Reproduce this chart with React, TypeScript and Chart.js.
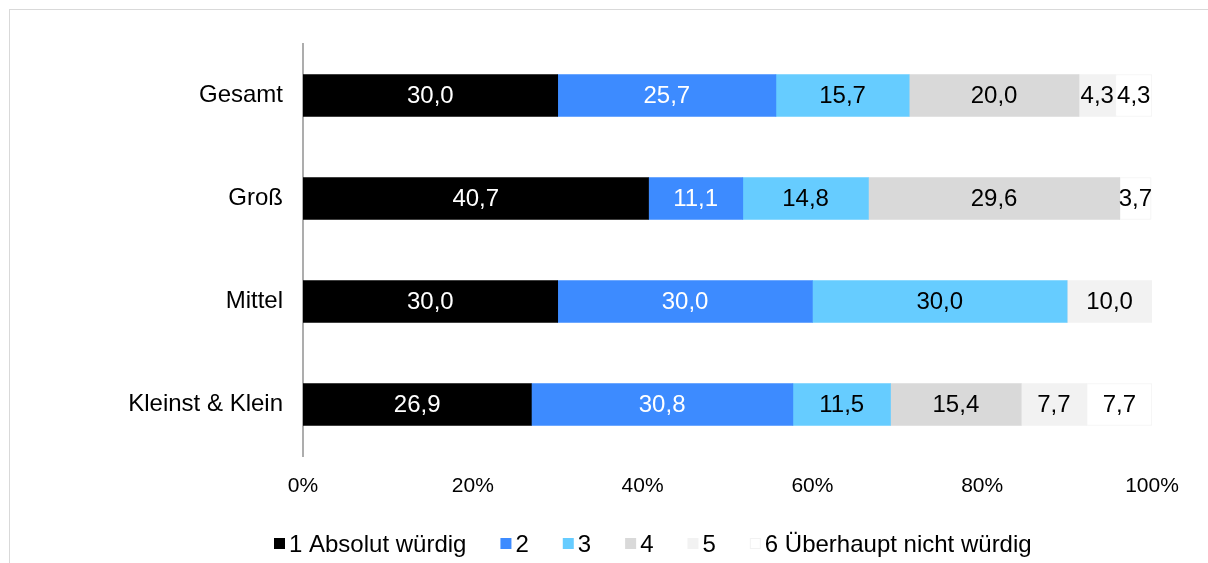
import React, { useEffect, useRef } from "react";
import { Chart, registerables } from "chart.js";

Chart.register(...registerables);

const categories = ["Gesamt", "Groß", "Mittel", "Kleinst & Klein"];
const seriesNames = ["1 Absolut würdig", "2", "3", "4", "5", "6 Überhaupt nicht würdig"];
const s1 = [30.0, 40.7, 30.0, 26.9];
const s2 = [25.7, 11.1, 30.0, 30.8];
const s3 = [15.7, 14.8, 30.0, 11.5];
const s4 = [20.0, 29.6, 0, 15.4];
const s5 = [4.3, 0, 10.0, 7.7];
const s6 = [4.3, 3.7, 0, 7.7];
const xTicks = [0, 20, 40, 60, 80, 100];

const colors = ["#000000", "#3D8BFF", "#66CCFF", "#D9D9D9", "#F2F2F2", "#FFFFFF"];
const labelColors = ["#FFFFFF", "#FFFFFF", "#000000", "#000000", "#000000", "#000000"];
const FONT = "'Liberation Sans', Arial, sans-serif";

export default function App() {
  const ref = useRef<HTMLCanvasElement>(null);
  useEffect(() => {
    if (!ref.current) return;
    const series = [s1, s2, s3, s4, s5, s6];
    const labelPlugin = {
      id: "labels",
      afterDatasetsDraw(chart: any) {
        const ctx = chart.ctx;
        ctx.save();
        ctx.font = `24px ${FONT}`;
        ctx.textAlign = "center";
        ctx.textBaseline = "middle";
        chart.data.datasets.forEach((ds: any, di: number) => {
          const meta = chart.getDatasetMeta(di);
          meta.data.forEach((el: any, i: number) => {
            const v = ds.data[i];
            if (!v) return;
            ctx.fillStyle = labelColors[di];
            ctx.fillText(v.toFixed(1).replace(".", ","), (el.x + el.base) / 2, el.y + 1);
          });
        });
        ctx.restore();
      },
    };
    const framePlugin = {
      id: "frame",
      beforeDraw(chart: any) {
        const ctx = chart.ctx;
        ctx.save();
        ctx.fillStyle = "#FFFFFF";
        ctx.fillRect(0, 0, chart.width, chart.height);
        ctx.strokeStyle = "#D9D9D9";
        ctx.lineWidth = 1;
        ctx.strokeRect(9.5, 9.5, 1400, 1400);
        ctx.restore();
      },
      afterDraw(chart: any) {
        const ctx = chart.ctx;
        ctx.save();
        ctx.font = `24px ${FONT}`;
        ctx.textBaseline = "middle";
        ctx.textAlign = "left";
        let x = 274;
        const y = 543;
        seriesNames.forEach((name, i) => {
          ctx.fillStyle = colors[i];
          ctx.fillRect(x, y - 5, 11, 11);
          if (i === 5) {
            ctx.strokeStyle = "#F2F2F2";
            ctx.lineWidth = 1;
            ctx.strokeRect(x + 0.5, y - 4.5, 10, 10);
          }
          ctx.fillStyle = "#000000";
          ctx.fillText(name, x + 15, y + 2);
          x += 15 + ctx.measureText(name).width + 34;
        });
        ctx.restore();
      },
    };
    const chart = new Chart(ref.current, {
      type: "bar",
      data: {
        labels: categories,
        datasets: series.map((d, i) => ({
          label: seriesNames[i],
          data: d,
          backgroundColor: colors[i],
          borderColor: i === 5 ? "#F2F2F2" : colors[i],
          borderWidth: i === 5 ? 1 : 0,
          borderSkipped: false,
          barThickness: 42,
        })),
      },
      options: {
        indexAxis: "y",
        animation: false,
        responsive: false,
        devicePixelRatio: 1,
        layout: { padding: { left: 0, top: 44, right: 56, bottom: 0 } },
        plugins: { legend: { display: false }, tooltip: { enabled: false } },
        scales: {
          x: {
            stacked: true,
            min: 0,
            max: 100,
            afterBuildTicks(scale: any) {
              scale.ticks = xTicks.map((v) => ({ value: v }));
            },
            afterFit(scale: any) {
              scale.height = 107;
            },
            grid: { display: false, drawTicks: false },
            border: { display: false },
            ticks: {
              padding: 18,
              color: "#000000",
              font: { family: FONT, size: 21 },
              callback: (v: any) => v + "%",
            },
          },
          y: {
            stacked: true,
            afterFit(scale: any) {
              scale.width = 303;
            },
            grid: { display: false, drawTicks: false },
            border: { display: true, color: "#ADADAD", width: 2 },
            ticks: {
              padding: 20,
              color: "#000000",
              font: { family: FONT, size: 24 },
            },
          },
        },
      },
      plugins: [framePlugin, labelPlugin],
    });
    return () => chart.destroy();
  }, []);
  return (
    <div style={{ position: "fixed", left: 0, top: 0, width: 1208, height: 563 }}>
      <canvas ref={ref} width={1208} height={563} style={{ width: 1208, height: 563, display: "block" }} />
    </div>
  );
}
